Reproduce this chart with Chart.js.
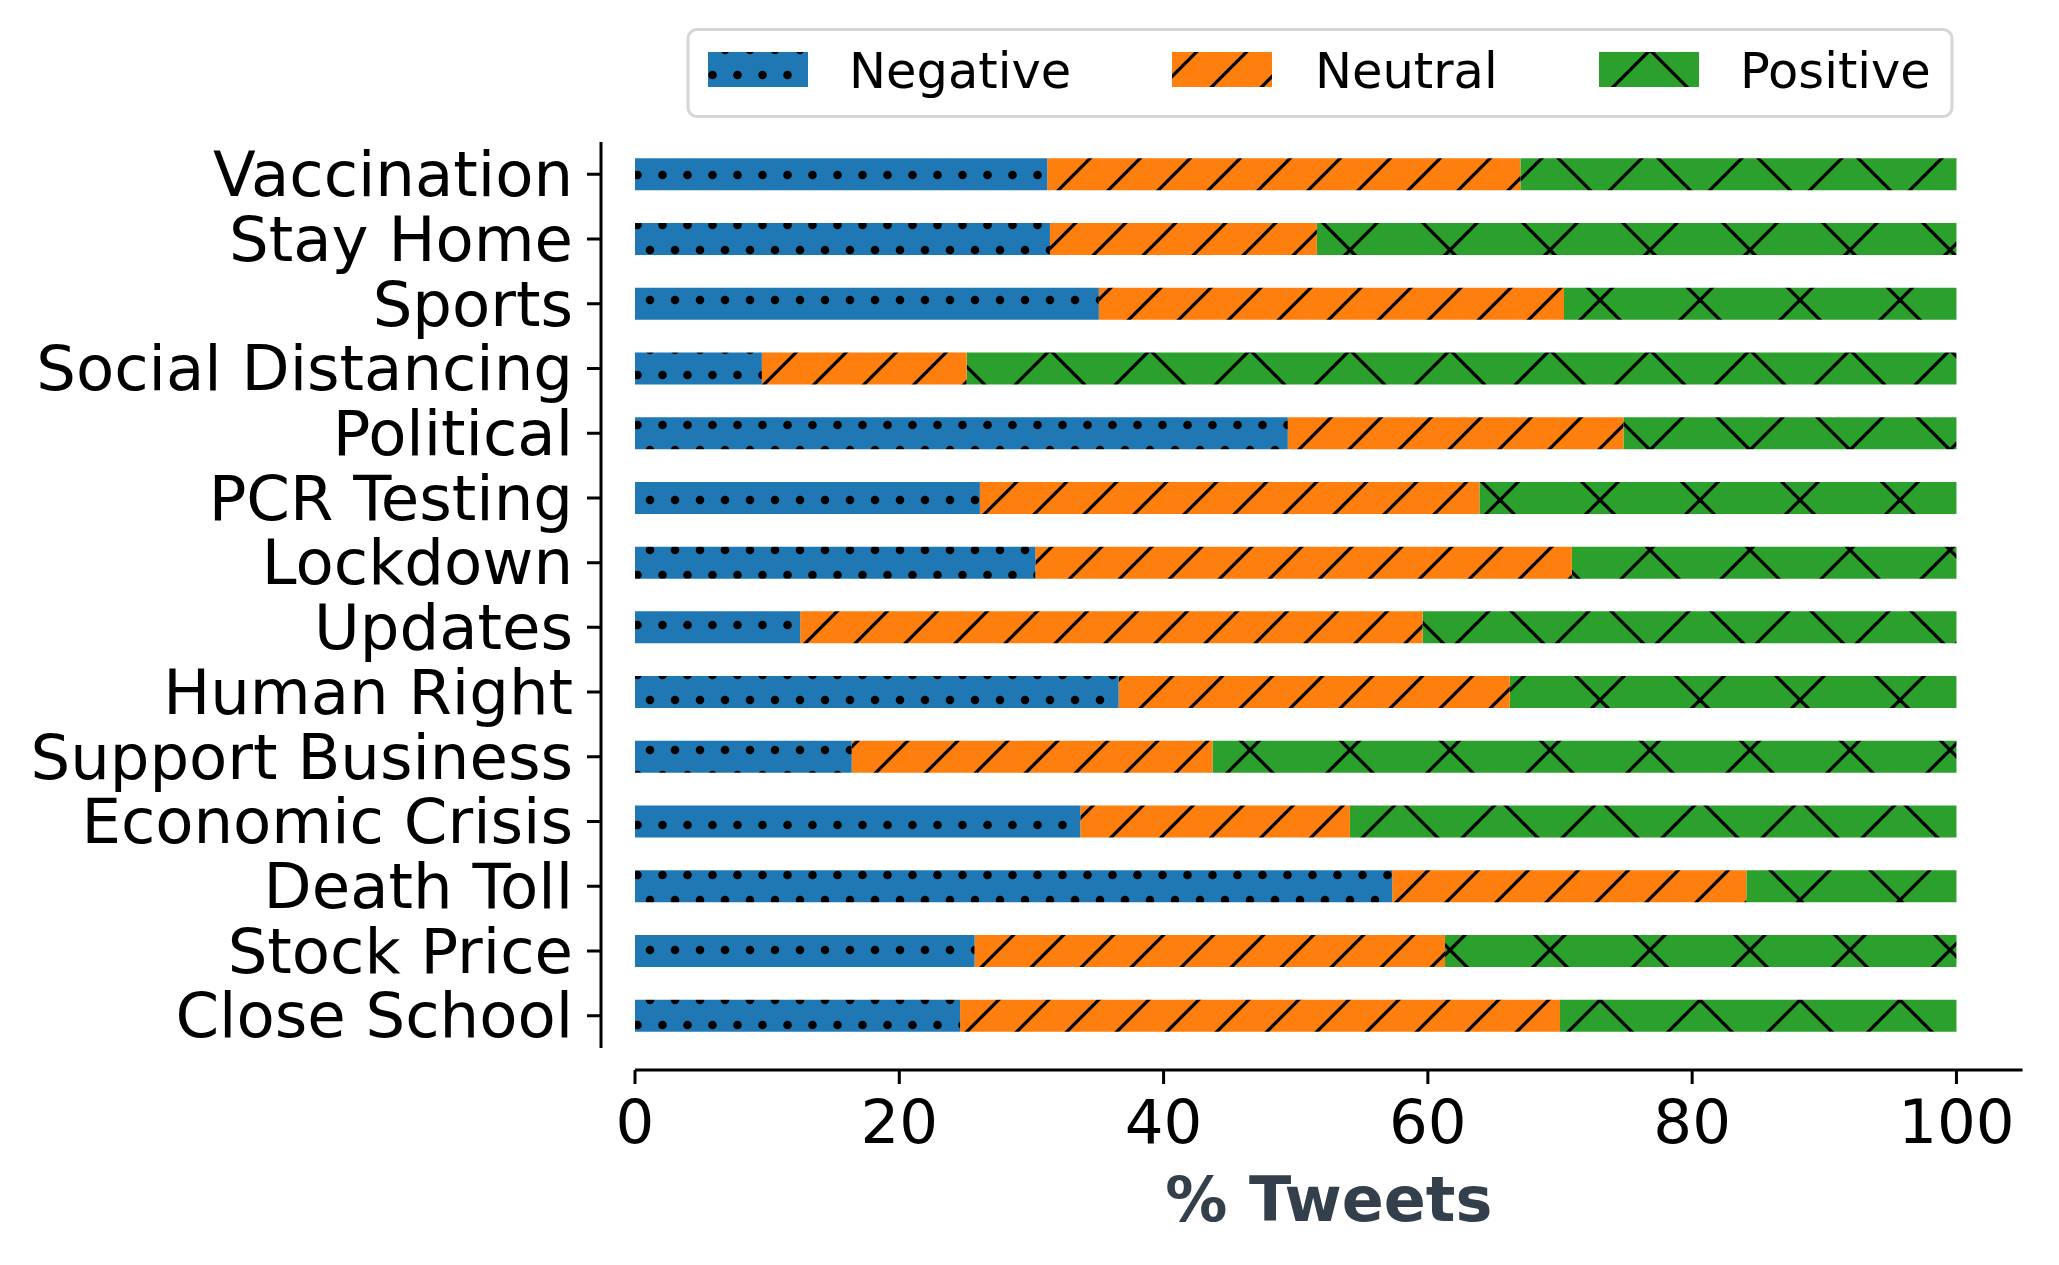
<!DOCTYPE html>
<html>
<head>
<meta charset="utf-8">
<title>% Tweets by topic</title>
<script src="https://cdn.jsdelivr.net/npm/chart.js@4/dist/chart.umd.min.js"></script>
<style>
  html, body { margin: 0; padding: 0; background: #fff; overflow: hidden; }
  canvas { display: block; }
</style>
</head>
<body>
<canvas id="tweetsChart" width="2059" height="1265" style="width:2059px;height:1265px"></canvas>
<script>
const categories = ['Vaccination', 'Stay Home', 'Sports', 'Social Distancing', 'Political', 'PCR Testing',
  'Lockdown', 'Updates', 'Human Right', 'Support Business', 'Economic Crisis', 'Death Toll',
  'Stock Price', 'Close School'];
const negative = [31.2, 31.4, 35.1, 9.6, 49.4, 26.1, 30.3, 12.5, 36.6, 16.4, 33.7, 57.3, 25.7, 24.6];
const neutral = [35.8, 20.2, 35.2, 15.5, 25.4, 37.8, 40.6, 47.1, 29.6, 27.3, 20.4, 26.8, 35.6, 45.4];
const positive = [33.0, 48.4, 29.7, 74.9, 25.2, 36.1, 29.1, 40.4, 33.8, 56.3, 45.9, 15.9, 38.7, 30.0];
const xTicks = [0, 20, 40, 60, 80, 100];
const xTitle = '% Tweets';

const FONT = "'DejaVu Sans', sans-serif";

// hatch patterns, anchored to the canvas origin like matplotlib's
function makePattern(w, h, bg, draw) {
  const c = document.createElement('canvas');
  c.width = w; c.height = h;
  const g = c.getContext('2d');
  g.fillStyle = bg;
  g.fillRect(0, 0, w, h);
  g.fillStyle = '#000';
  g.strokeStyle = '#000';
  draw(g, w, h);
  return g.createPattern(c, 'repeat');
}

const ctx = document.getElementById('tweetsChart').getContext('2d');

const dots = makePattern(25, 50, '#1f77b4', (g) => {
  [[0, 0], [25, 0], [0, 50], [25, 50], [12.5, 25]].forEach(([x, y]) => {
    g.beginPath();
    g.arc(x, y, 4.3, 0, Math.PI * 2);
    g.fill();
  });
});

const slashes = makePattern(50, 50, '#ff7f0e', (g) => {
  g.lineWidth = 3.3;
  [-1.5, 48.5, 98.5].forEach(c => {
    g.beginPath();
    g.moveTo(c + 10, -10);
    g.lineTo(c - 60, 60);
    g.stroke();
  });
});

const crosses = makePattern(100, 100, '#2ca02c', (g) => {
  g.lineWidth = 3.3;
  [0, 100, 200].forEach(c => {
    g.beginPath();
    g.moveTo(c + 10, -10);
    g.lineTo(c - 110, 110);
    g.stroke();
  });
  [-100, 0, 100].forEach(c => {
    g.beginPath();
    g.moveTo(c - 10, -10);
    g.lineTo(c + 110, 110);
    g.stroke();
  });
});

// offset spines + tick marks
const spines = {
  id: 'spines',
  afterDraw(chart) {
    const { ctx, chartArea } = chart;
    const xs = chart.scales.x, ys = chart.scales.y;
    ctx.save();
    ctx.strokeStyle = '#000';
    ctx.lineWidth = 3;
    const sx = chartArea.left - 34;
    ctx.beginPath();
    ctx.moveTo(sx, chartArea.top);
    ctx.lineTo(sx, chartArea.bottom);
    ys.ticks.forEach((t, i) => {
      const p = ys.getPixelForTick(i);
      ctx.moveTo(sx - 14, p);
      ctx.lineTo(sx, p);
    });
    const sy = chartArea.bottom + 22;
    ctx.moveTo(xs.getPixelForValue(xs.min), sy);
    ctx.lineTo(xs.getPixelForValue(xs.max), sy);
    xs.ticks.forEach(t => {
      const p = xs.getPixelForValue(t.value);
      ctx.moveTo(p, sy);
      ctx.lineTo(p, sy + 14);
    });
    ctx.stroke();
    ctx.restore();
  }
};

// matplotlib-like legend box
const boxLegend = {
  id: 'boxLegend',
  afterDraw(chart) {
    const { ctx } = chart;
    const patchX = [708, 1172, 1599];
    const textX = [849, 1315, 1740];
    ctx.save();
    ctx.beginPath();
    ctx.roundRect(688, 29.5, 1264, 87, 9);
    ctx.fillStyle = '#fff';
    ctx.fill();
    ctx.lineWidth = 3;
    ctx.strokeStyle = '#d6d6d6';
    ctx.stroke();
    ctx.font = '49.5px ' + FONT;
    ctx.textBaseline = 'alphabetic';
    chart.data.datasets.forEach((ds, i) => {
      ctx.fillStyle = ds.backgroundColor;
      ctx.fillRect(patchX[i], 52, 100, 35);
      ctx.fillStyle = '#000';
      ctx.fillText(ds.label, textX[i], 88);
    });
    ctx.restore();
  }
};

new Chart(ctx, {
  type: 'bar',
  data: {
    labels: categories,
    datasets: [
      { label: 'Negative', data: negative, backgroundColor: dots },
      { label: 'Neutral', data: neutral, backgroundColor: slashes },
      { label: 'Positive', data: positive, backgroundColor: crosses }
    ]
  },
  options: {
    indexAxis: 'y',
    responsive: false,
    devicePixelRatio: 1,
    animation: false,
    events: [],
    layout: { padding: { top: 142, right: 28, left: 0, bottom: 0 } },
    datasets: {
      bar: { barPercentage: 0.495, categoryPercentage: 1, borderWidth: 0 }
    },
    plugins: {
      legend: { display: false },
      tooltip: { enabled: false }
    },
    scales: {
      x: {
        stacked: true,
        min: 0,
        max: 105,
        afterBuildTicks: s => { s.ticks = xTicks.map(v => ({ value: v })); },
        afterFit: s => { s.height = 217; },
        grid: { display: false, drawTicks: false, tickLength: 0 },
        border: { display: false },
        ticks: {
          font: { family: FONT, size: 61 },
          color: '#000',
          padding: 43,
          maxRotation: 0,
          autoSkip: false
        },
        title: {
          display: true,
          text: xTitle,
          color: '#333F4B',
          font: { family: FONT, size: 62, weight: 'bold' },
          padding: { top: 0, bottom: 23 }
        }
      },
      y: {
        stacked: true,
        offset: true,
        afterFit: s => { s.width = 635; },
        grid: { display: false, drawTicks: false, tickLength: 0 },
        border: { display: false },
        ticks: {
          font: { family: FONT, size: 62.5 },
          color: '#000',
          padding: 62,
          labelOffset: 5.5,
          autoSkip: false
        }
      }
    }
  },
  plugins: [spines, boxLegend]
});
</script>
</body>
</html>
